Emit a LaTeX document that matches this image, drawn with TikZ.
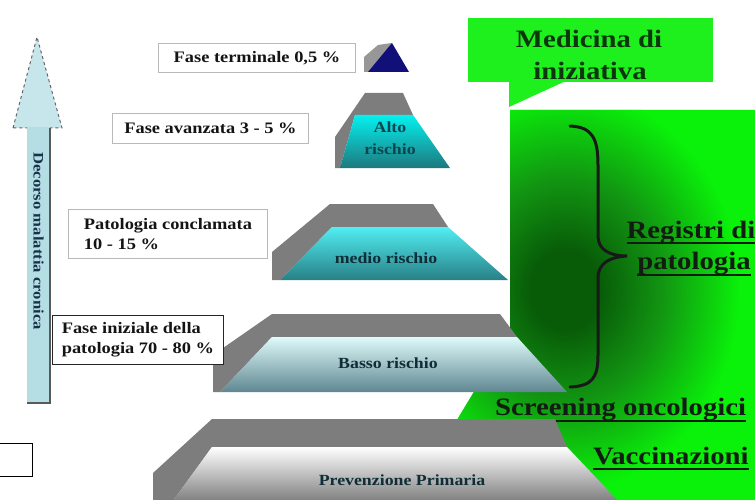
\documentclass[tikz,border=0pt]{standalone}
\usepackage{fontspec}
\setmainfont{Liberation Serif}
\newfontfamily\tnr[FakeStretch=1.15]{Liberation Serif}
\usetikzlibrary{calc}
\definecolor{glime}{RGB}{10,242,10}
\definecolor{glime2}{RGB}{30,240,30}
\definecolor{gdark}{RGB}{8,92,8}
\definecolor{gmid}{RGB}{18,150,18}
\definecolor{bandg}{RGB}{125,125,125}
\definecolor{txtc}{RGB}{20,20,20}
\definecolor{bigc}{RGB}{18,28,18}
\definecolor{medc}{RGB}{12,55,12}
\definecolor{trapt}{RGB}{15,45,55}
\definecolor{altot}{RGB}{10,70,80}
\definecolor{arrc}{RGB}{180,222,228}
\definecolor{arrt}{RGB}{25,50,75}
\definecolor{altotop}{RGB}{5,240,240}
\definecolor{altobot}{RGB}{30,120,125}
\definecolor{medtop}{RGB}{80,238,242}
\definecolor{medbot}{RGB}{40,128,134}
\definecolor{bastop}{RGB}{222,250,250}
\definecolor{basbot}{RGB}{95,135,145}
\definecolor{prevbot}{RGB}{118,118,118}
\definecolor{navy}{RGB}{16,16,120}
\pgfdeclareradialshading{greenglow}{\pgfpoint{0bp}{0bp}}{color(0bp)=(gdark); color(5bp)=(gdark); color(14bp)=(gmid); color(25bp)=(glime); color(50bp)=(glime)}
\begin{document}
\begin{tikzpicture}[x=1pt,y=-1pt,
  txt/.style={font=\tnr\bfseries\fontsize{15.5}{20}\selectfont, text=txtc, inner sep=0pt},
  big/.style={font=\tnr\bfseries\fontsize{25}{30}\selectfont, text=bigc, inner sep=0pt},
  lbox/.style={draw=gray!55, line width=0.9pt, fill=white, align=left, inner sep=0pt,
     anchor=north west, font=\tnr\bfseries\fontsize{16}{20}\selectfont, text=txtc},
  band/.style={fill=bandg},
  ul/.style={line width=1.8pt, draw=bigc},
]
\clip (0,0) rectangle (755,500);
\fill[white] (0,0) rectangle (755,500);

% green region with dark glow
\begin{scope}
  \clip (510,110) -- (760,110) -- (760,505) -- (457,505) -- (457,420) -- (510,332) -- cycle;
  \fill[glime] (440,100) rectangle (760,505);
  \shade[shading=greenglow] (565,290) ellipse (175 and 200);
\end{scope}

% callout
\fill[glime2] (468,18) rectangle (713,82);
\fill[glime2] (509,80) -- (509,107) -- (568,80) -- cycle;
\node[big, text=medc, anchor=base] (med1) at (589,48) {Medicina di};
\node[big, text=medc, anchor=base] (med2) at (590,80) {iniziativa};

% brace
\draw[line width=3pt, line cap=round, black!90]
  (570,126) .. controls (592,127) and (598,138) .. (598,165) -- (598,236)
  .. controls (598,250) and (610,256) .. (627,256)
  .. controls (610,257) and (598,263) .. (598,278) -- (598,355)
  .. controls (598,378) and (592,386) .. (570,387);

% green labels
\node[big, anchor=base] (reg1) at (691,238) {Registri di};
\node[big, anchor=base] (reg2) at (694,269) {patologia};
\draw[ul] ([yshift=-5pt]reg1.base west) -- ([yshift=-5pt]reg1.base east);
\draw[ul] ([yshift=-6pt]reg2.base west) -- ([yshift=-6pt]reg2.base east);
\node[big, anchor=base west] (scr) at (495,415) {Screening oncologici};
\draw[ul] ([yshift=-6pt]scr.base west) -- ([yshift=-6pt]scr.base east);
\node[big, anchor=base west] (vac) at (593,464) {Vaccinazioni};
\draw[ul] ([yshift=-5pt]vac.base west) -- ([yshift=-5pt]vac.base east);

% --- pyramid levels ---
% small top pyramid
\fill[bandg!80] (364,72) -- (364,57) -- (378,45) -- (392,43) -- (376,72) -- cycle;
\fill[navy] (368,72) -- (392,43) -- (409,72) -- cycle;

% alto rischio
\fill[band] (335,168) -- (335,137) -- (365,93) -- (403,93) -- (413,115) -- (355,115) -- (340,168) -- cycle;
\shade[top color=altotop, bottom color=altobot] (340,168) -- (355,115) -- (413,115) -- (450,168) -- cycle;
\node[txt, text=altot, anchor=base] (alto1) at (390,133) {Alto};
\node[txt, text=altot, anchor=base] (alto2) at (390,155) {rischio};

% medio rischio
\fill[band] (272,280) -- (272,252) -- (330,204) -- (433,204) -- (448,227) -- (332,227) -- (280,280) -- cycle;
\shade[top color=medtop, bottom color=medbot] (280,280) -- (332,227) -- (448,227) -- (508,280) -- cycle;
\node[txt, text=trapt, anchor=base] (medio) at (386,263) {medio rischio};

% basso rischio
\fill[band] (213,392) -- (213,355) -- (272,314) -- (500,314) -- (517,337) -- (272,337) -- (220,392) -- cycle;
\shade[top color=bastop, bottom color=basbot] (220,392) -- (272,337) -- (517,337) -- (567,392) -- cycle;
\node[txt, text=trapt, anchor=base] (basso) at (388,368) {Basso rischio};

% prevenzione primaria
\fill[band] (153,505) -- (153,473) -- (212,419) -- (555,419) -- (567,447) -- (212,447) -- (170,505) -- cycle;
\shade[top color=white, bottom color=prevbot] (170,505) -- (212,447) -- (567,447) -- (622,505) -- cycle;
\node[txt, text=trapt, anchor=base] (prev) at (402,485) {Prevenzione Primaria};

% --- label boxes ---
\node[lbox, minimum width=197pt, minimum height=29pt] (b1) at (158,43) {Fase terminale 0,5 \%};
\node[lbox, minimum width=196pt, minimum height=30pt] (b2) at (112,113) {Fase avanzata 3 - 5 \%};
\node[lbox, minimum width=199pt, minimum height=49pt] (b3) at (68,209) {Patologia conclamata\\10 - 15 \%};
\node[lbox, draw=black!85, minimum width=171pt, minimum height=49pt] (b4) at (52,315) {Fase iniziale della\\patologia 70 - 80 \%};

% small empty box
\node[draw=black, line width=1pt, fill=white, minimum width=36pt, minimum height=33pt, anchor=north east, inner sep=0pt] (eb) at (33,443) {};

% --- vertical arrow ---
\filldraw[fill=arrc!75!white, draw=gray!80!black, dashed, line width=1pt] (13,128) -- (37,37) -- (62,128) -- cycle;
\fill[arrc] (27,127) rectangle (50,403);
\draw[line width=1.5pt, draw=gray!70!black] (50,128) -- (50,403) -- (27,403);
\node[txt, rotate=-90, text=arrt, font=\tnr\bfseries\fontsize{14.5}{18}\selectfont] (dec) at (38.5,241) {Decorso malattia cronica};
\end{tikzpicture}
\end{document}
